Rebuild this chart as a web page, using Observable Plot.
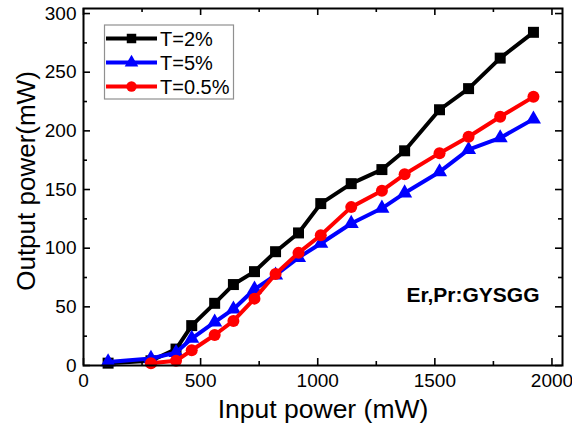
<!DOCTYPE html>
<html>
<head>
<meta charset="utf-8">
<script src="https://cdn.jsdelivr.net/npm/d3@7"></script>
<script src="https://cdn.jsdelivr.net/npm/@observablehq/plot@0.6"></script>
<style>
  html, body { margin: 0; padding: 0; background: #fff; }
  #chart svg { display: block; }
</style>
</head>
<body>
<div id="chart"></div>
<script>
// ---- data ----
const inputPower = [105, 288, 395, 462, 560, 640, 730, 820, 918, 1013, 1143, 1274, 1371, 1520, 1644, 1779, 1921];
const outT2  = [2, 4, 14, 34, 53, 69, 80, 97, 113, 138, 155, 167, 183, 218, 236, 262, 284];
const outT5  = [3, 6, 11, 23, 37, 48, 65, 77, 92, 104, 121, 134, 147, 165, 184, 194, 210];
const outT05 = [null, 2, 4, 13, 26, 38, 57, 78, 96, 111, 135, 149, 163, 181, 195, 212, 229];

const seriesNames   = ["T=2%", "T=5%", "T=0.5%"];
const seriesColors  = ["#000000", "#0000ff", "#ff0000"];
const seriesSymbols = ["square", "triangle", "circle"];
const seriesValues  = [outT2, outT5, outT05];

const xTicks = [0, 500, 1000, 1500, 2000];
const xMinorTicks = [250, 750, 1250, 1750];
const yTicks = [0, 50, 100, 150, 200, 250, 300];
const yMinorTicks = [25, 75, 125, 175, 225, 275];

const xLabel = "Input power (mW)";
const yLabel = "Output power(mW)";
const sampleLabel = "Er,Pr:GYSGG";

// ---- layout ----
const W = 572, H = 429;
const mL = 83, mR = 10, mT = 8, mB = 64;
const pw = W - mL - mR, ph = H - mT - mB;
const font = "Liberation Sans, Arial, Helvetica, sans-serif";

const rows = [];
seriesValues.forEach((vals, si) => {
  vals.forEach((v, i) => {
    if (v != null) rows.push({series: seriesNames[si], x: inputPower[i], y: v, si});
  });
});

const seriesMarks = [];
seriesNames.forEach((name, si) => {
  const d = rows.filter(r => r.si === si);
  const sym = seriesSymbols[si];
  const r = sym === "square" ? 6.2 : sym === "triangle" ? 5.6 : 6;
  seriesMarks.push(Plot.line(d, {x: "x", y: "y", stroke: seriesColors[si], strokeWidth: 4, strokeLinejoin: "round"}));
  seriesMarks.push(Plot.dot(d, {x: "x", y: "y", fill: seriesColors[si], stroke: "none", symbol: sym, r}));
});

const chart = Plot.plot({
  width: W,
  height: H,
  marginLeft: mL, marginRight: mR, marginTop: mT, marginBottom: mB,
  style: {fontFamily: font, background: "#fff", overflow: "visible"},
  x: {domain: [0, 2045]},
  y: {domain: [0, 304.3]},
  marks: [
    // inward ticks on all four sides
    Plot.tickX(xTicks, {x: d => d, insetTop: ph - 7, strokeWidth: 1.6, stroke: "#000"}),
    Plot.tickX(xTicks, {x: d => d, insetBottom: ph - 7, strokeWidth: 1.6, stroke: "#000"}),
    Plot.tickX(xMinorTicks, {x: d => d, insetTop: ph - 4, strokeWidth: 1.6, stroke: "#000"}),
    Plot.tickX(xMinorTicks, {x: d => d, insetBottom: ph - 4, strokeWidth: 1.6, stroke: "#000"}),
    Plot.tickY(yTicks, {y: d => d, insetRight: pw - 7, strokeWidth: 1.6, stroke: "#000"}),
    Plot.tickY(yTicks, {y: d => d, insetLeft: pw - 7, strokeWidth: 1.6, stroke: "#000"}),
    Plot.tickY(yMinorTicks, {y: d => d, insetRight: pw - 4, strokeWidth: 1.6, stroke: "#000"}),
    Plot.tickY(yMinorTicks, {y: d => d, insetLeft: pw - 4, strokeWidth: 1.6, stroke: "#000"}),
    Plot.axisX({ticks: xTicks, tickSize: 0, tickPadding: 8, fontSize: 19, label: null, tickFormat: d => String(d)}),
    Plot.axisY({ticks: yTicks, tickSize: 0, tickPadding: 7, fontSize: 19, label: null, tickFormat: d => String(d)}),
    ...seriesMarks,
    Plot.frame({stroke: "#000", strokeWidth: 2}),
    Plot.text([xLabel], {text: d => d, frameAnchor: "bottom", textAnchor: "middle", dy: 52, lineAnchor: "bottom", fontSize: 26.5, fill: "#000"}),
    Plot.text([yLabel], {text: d => d, frameAnchor: "left", textAnchor: "middle", dx: -49, dy: -6, rotate: -90, lineAnchor: "bottom", fontSize: 26, fill: "#000"}),
    Plot.text([sampleLabel], {text: d => d, frameAnchor: "bottom-right", textAnchor: "end", dx: -23, dy: -64, lineAnchor: "bottom", fontSize: 21, fontWeight: "bold", fill: "#000"})
  ]
});

document.getElementById("chart").appendChild(chart);

// ---- legend (inside the plot, top-left) ----
const svg = d3.select(chart);
const lg = svg.append("g").attr("font-family", font).attr("text-anchor", "start");
lg.append("rect").attr("x", 104.5).attr("y", 25).attr("width", 129).attr("height", 74)
  .attr("fill", "#fff").attr("stroke", "#909090").attr("stroke-width", 1.2);
const symMap = {square: d3.symbolSquare, triangle: d3.symbolTriangle, circle: d3.symbolCircle};
const symSize = {square: 90, triangle: 80, circle: 85};
seriesNames.forEach((name, i) => {
  const cy = 38.5 + i * 24;
  lg.append("line").attr("x1", 106).attr("x2", 157).attr("y1", cy).attr("y2", cy)
    .attr("stroke", seriesColors[i]).attr("stroke-width", 4);
  lg.append("path").attr("d", d3.symbol(symMap[seriesSymbols[i]], symSize[seriesSymbols[i]])())
    .attr("transform", `translate(131.5,${cy})`).attr("fill", seriesColors[i]);
  lg.append("text").attr("x", 160).attr("y", cy + 7.2).attr("text-anchor", "start")
    .attr("font-size", 20).attr("fill", "#000").text(name);
});
</script>
</body>
</html>
